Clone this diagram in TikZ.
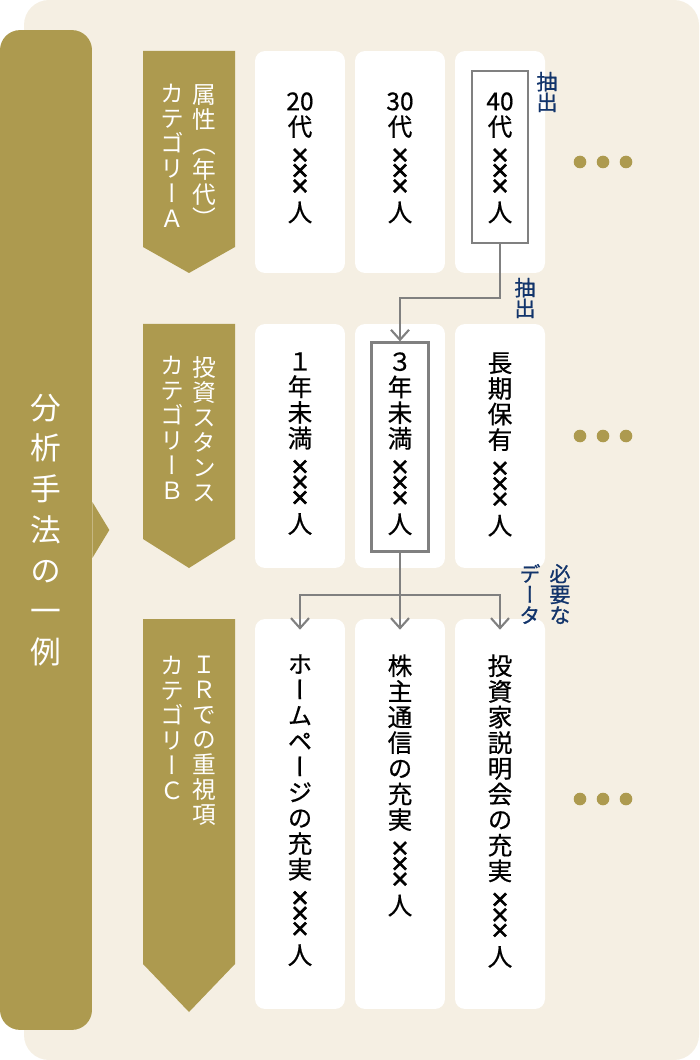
\documentclass[tikz,border=0pt]{standalone}
\usepackage{fontspec}
\setmainfont{Noto Sans CJK JP}[RawFeature=+vert]
\newfontfamily\cellfont{Noto Sans CJK JP}[RawFeature=+vert, FakeBold=0.6]
\newfontfamily\notefont{Noto Sans CJK JP}[RawFeature=+vert, FakeBold=0.9]
\newfontfamily\crossfont{Liberation Sans}[FakeBold=1.4]
\definecolor{bgcream}{HTML}{F5EFE3}
\definecolor{gold}{HTML}{AD9A4F}
\definecolor{navy}{HTML}{12346B}
\definecolor{framegray}{HTML}{808080}
\usetikzlibrary{arrows.meta,positioning,calc}
\newcommand{\crs}{{\crossfont\fontsize{17}{14.6}\selectfont ×}}
\newcommand{\xxx}{\crs\\[-5.8pt]\crs\\[-5.8pt]\crs}

\begin{document}
\begin{tikzpicture}[x=0.02cm, y=-0.02cm,
  cell/.style={rounded corners=0.2cm, fill=white, minimum width=1.8cm, inner sep=0pt},
  celltext/.style={anchor=north, inner sep=0pt, align=center,
    font={\cellfont\fontsize{14}{14.6}\selectfont\lineskiplimit=-20pt}},
  cattext/.style={anchor=north, inner sep=0pt, align=center, text=white,
    font={\fontsize{13.5}{14.2}\selectfont\lineskiplimit=-20pt}},
  note/.style={inner sep=0pt, align=center, text=navy,
    font={\notefont\fontsize{12}{11.8}\selectfont\lineskiplimit=-20pt}},
  pick/.style={draw=framegray, line width=1.3pt, inner sep=0pt},
  link/.style={draw=framegray, line width=1.2pt, -{Straight Barb[length=0.2cm, width=0.36cm]}}
]
  \useasboundingbox (0,0) rectangle (699,1060);

  % Background panel
  \fill[bgcream, rounded corners=0.5cm] (24,0) rectangle (699,1060);

  % Method bar
  \node[fill=gold, rounded corners=0.4cm, minimum width=1.84cm, minimum height=20cm,
    text=white, align=center, font={\fontsize{17.5}{23.2}\selectfont\lineskiplimit=-20pt}]
    (method) at (46,530) {分\\析\\手\\法\\の\\一\\例};
  \fill[gold] ([yshift=0.56cm]method.east) -- ++(0.34cm,-0.56cm) -- ++(-0.34cm,-0.56cm) -- cycle;

  % Category tabs
  \fill[gold] (143,51) -- (235,51) -- (235,247) -- (189,273) -- (143,247) -- cycle;
  \fill[gold] (143,324) -- (235,324) -- (235,539) -- (189,568) -- (143,539) -- cycle;
  \fill[gold] (143,619) -- (235,619) -- (235,964) -- (189,1012) -- (143,964) -- cycle;
  \node[cattext] (catA1) at (204,84) {属\\性\\（\\年\\代\\）};
  \node[cattext] (catA2) at (172,84) {カ\\テ\\ゴ\\リ\\ー\\Ａ};
  \node[cattext] (catB1) at (204,356) {投\\資\\ス\\タ\\ン\\ス};
  \node[cattext] (catB2) at (172,356) {カ\\テ\\ゴ\\リ\\ー\\Ｂ};
  \node[cattext] (catC1) at (204,656) {Ｉ\\Ｒ\\で\\の\\重\\視\\項};
  \node[cattext] (catC2) at (172,656) {カ\\テ\\ゴ\\リ\\ー\\Ｃ};

  % Cells
  \node[cell, minimum height=4.44cm] (a1) at (300,162) {};
  \node[cell, minimum height=4.44cm] (a2) at (400,162) {};
  \node[cell, minimum height=4.44cm] (a3) at (500,162) {};
  \node[cell, minimum height=4.88cm] (b1) at (300,446) {};
  \node[cell, minimum height=4.88cm] (b2) at (400,446) {};
  \node[cell, minimum height=4.88cm] (b3) at (500,446) {};
  \node[cell, minimum height=7.8cm] (c1) at (300,814) {};
  \node[cell, minimum height=7.8cm] (c2) at (400,814) {};
  \node[cell, minimum height=7.8cm] (c3) at (500,814) {};

  % Picked frames
  \node[pick, minimum width=1.12cm, minimum height=3.44cm] (pick1) at (500,157) {};
  \node[pick, minimum width=1.14cm, minimum height=4.18cm] (pick2) at (400,447) {};

  % Cell texts
  \node[celltext] (a1t) at (300,92) {20\\代\\[2pt]\xxx\\人};
  \node[celltext] (a2t) at (400,92) {30\\代\\[2pt]\xxx\\人};
  \node[celltext] (a3t) at (500,92) {40\\代\\[2pt]\xxx\\人};
  \node[celltext] (b1t) at (300,352) {１\\年\\未\\満\\[2pt]\xxx\\人};
  \node[celltext] (b2t) at (400,352) {３\\年\\未\\満\\[2pt]\xxx\\人};
  \node[celltext] (b3t) at (500,352) {長\\期\\保\\有\\[2pt]\xxx\\人};
  \node[celltext] (c1t) at (300,654) {ホ\\ー\\ム\\ペ\\ー\\ジ\\の\\充\\実\\[2pt]\xxx\\人};
  \node[celltext] (c2t) at (400,654) {株\\主\\通\\信\\の\\充\\実\\[2pt]\xxx\\人};
  \node[celltext] (c3t) at (500,654) {投\\資\\家\\説\\明\\会\\の\\充\\実\\[2pt]\xxx\\人};

  % Links
  \coordinate (elbow1) at (450,298);
  \coordinate (fork) at (400,595);
  \draw[link] (pick1.south) |- (elbow1) -| (pick2.north);
  \draw[link] (pick2.south) -- ([yshift=-0.22cm]c2.north);
  \draw[link] (fork) -| ([yshift=-0.22cm]c1.north);
  \draw[link] (fork) -| ([yshift=-0.22cm]c3.north);

  % Notes
  \node[note] (pickA) at (547,92) {抽\\出};
  \node[note] (pickB) at (525,298) {抽\\出};
  \node[note] (need1) at (530,594) {デ\\ー\\タ};
  \node[note] (need2) at (560,594) {必\\要\\な};

  % More dots
  \foreach \y in {162,436,799}
    \foreach \x in {580,603,626}
      \fill[gold] (\x,\y) circle (0.126cm);
\end{tikzpicture}
\end{document}
